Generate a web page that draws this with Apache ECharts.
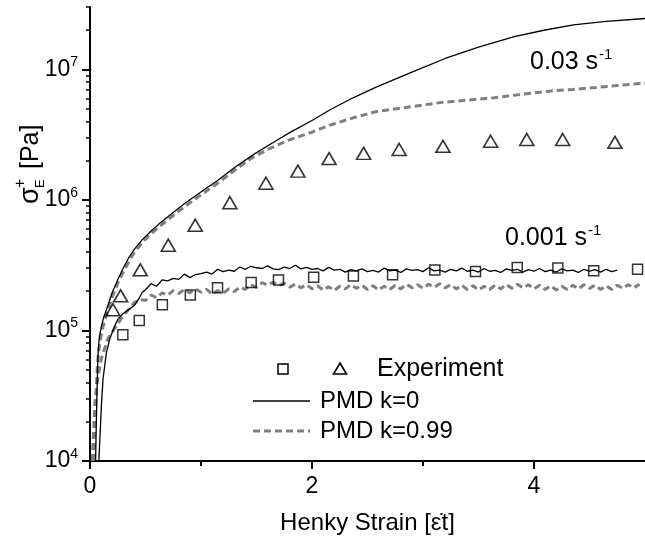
<!DOCTYPE html>
<html><head><meta charset="utf-8">
<script src="https://cdn.jsdelivr.net/npm/echarts@6/dist/echarts.min.js"></script>
<style>html,body{margin:0;padding:0;background:#fff}#c{width:645px;height:548px}</style>
</head><body><div id="c"></div>
<script>
const FONT = '"Liberation Sans", Arial, Helvetica, sans-serif';

// ---- axis ticks ----
const xMajorTicks = [0, 2, 4];
const xMinorTicks = [1, 3];
const yMajorTicks = [1e4, 1e5, 1e6, 1e7];
const yMinorTicks = [2e4,3e4,4e4,5e4,6e4,7e4,8e4,9e4, 2e5,3e5,4e5,5e5,6e5,7e5,8e5,9e5, 2e6,3e6,4e6,5e6,6e6,7e6,8e6,9e6, 2e7,3e7];

// ---- experiment, 0.001 1/s (squares) ----
const expSlowStrain = [0.296,0.444,0.652,0.904,1.149,1.452,1.698,2.015,2.373,2.726,3.107,3.473,3.849,4.215,4.538,4.933];
const expSlowStress = [9.25e4,1.19e5,1.57e5,1.87e5,2.12e5,2.33e5,2.43e5,2.55e5,2.61e5,2.67e5,2.90e5,2.83e5,3.03e5,3.01e5,2.86e5,2.94e5];

// ---- experiment, 0.03 1/s (triangles) ----
const expFastStrain = [0.207,0.276,0.453,0.705,0.948,1.26,1.585,1.873,2.154,2.465,2.785,3.18,3.609,3.935,4.258,4.729];
const expFastStress = [1.44e5,1.84e5,2.91e5,4.50e5,6.39e5,9.52e5,1.34e6,1.66e6,2.07e6,2.27e6,2.43e6,2.57e6,2.81e6,2.90e6,2.90e6,2.76e6];

// ---- PMD k=0, 0.03 1/s (black solid) ----
const pmdK0FastStrain = [0.05,0.055,0.06,0.065,0.07,0.076,0.085,0.104,0.125,0.148,0.2,0.252,0.3,0.35,0.4,0.47,0.548,0.62,0.696,0.77,0.844,0.92,0.993,1.06,1.14,1.3,1.482,1.65,1.807,2.0,2.163,2.37,2.578,2.9,3.2,3.5,3.822,4.1,4.356,4.65,5.0];
const pmdK0FastStress = [1.0e4,1.6e4,2.6e4,4.0e4,5.8e4,7.4e4,9.0e4,1.09e5,1.27e5,1.44e5,1.95e5,2.47e5,3.01e5,3.62e5,4.2e5,4.94e5,5.75e5,6.52e5,7.36e5,8.26e5,9.25e5,1.03e6,1.14e6,1.25e6,1.39e6,1.76e6,2.25e6,2.75e6,3.3e6,4.05e6,4.9e6,6.05e6,7.3e6,9.5e6,1.21e7,1.48e7,1.78e7,2.0e7,2.19e7,2.33e7,2.45e7];

// ---- PMD k=0.99, 0.03 1/s (grey dashed) ----
const pmdK99FastStrain = [0.035,0.042,0.05,0.058,0.066,0.075,0.09,0.11,0.13,0.155,0.2,0.25,0.3,0.385,0.47,0.55,0.65,0.8,0.95,1.05,1.156,1.3,1.452,1.62,1.807,2.0,2.163,2.37,2.578,2.874,3.171,3.4,3.644,3.9,4.178,4.35,4.533,4.75,5.0];
const pmdK99FastStress = [1.0e4,1.6e4,2.5e4,3.7e4,5.2e4,6.6e4,8.2e4,1.0e5,1.18e5,1.35e5,1.8e5,2.3e5,2.8e5,3.8e5,4.7e5,5.5e5,6.5e5,8.2e5,1.02e6,1.17e6,1.35e6,1.68e6,2.08e6,2.48e6,2.9e6,3.3e6,3.74e6,4.25e6,4.74e6,5.15e6,5.58e6,5.8e6,6.06e6,6.45e6,6.85e6,7.0e6,7.23e6,7.5e6,7.85e6];

// ---- shared strain grid of the noisy 0.001 1/s model curves ----
const noisyStrain = [0.50,0.55,0.60,0.65,0.70,0.75,0.80,0.85,0.90,0.95,1.00,1.05,1.10,1.15,1.20,1.25,1.30,1.35,1.40,1.45,1.50,1.55,1.60,1.65,1.70,1.75,1.80,1.85,1.90,1.95,2.00,2.05,2.10,2.15,2.20,2.25,2.30,2.35,2.40,2.45,2.50,2.55,2.60,2.65,2.70,2.75,2.80,2.85,2.90,2.95,3.00,3.05,3.10,3.15,3.20,3.25,3.30,3.35,3.40,3.45,3.50,3.55,3.60,3.65,3.70,3.75,3.80,3.85,3.90,3.95,4.00,4.05,4.10,4.15,4.20,4.25,4.30,4.35,4.40,4.45,4.50,4.55,4.60,4.65,4.70,4.75,4.80,4.85,4.90,4.95];

// ---- PMD k=0, 0.001 1/s (black solid, noisy) ----
const pmdK0SlowStartStrain = [0.08,0.089,0.104,0.118,0.148,0.178,0.215,0.252,0.3,0.35,0.4,0.44,0.47];
const pmdK0SlowStartStress = [1.0e4,1.48e4,2.8e4,4.3e4,6.8e4,8.6e4,1.05e5,1.22e5,1.35e5,1.45e5,1.55e5,1.75e5,1.95e5];
const pmdK0SlowStress = [2.05e5,2.28e5,2.18e5,2.44e5,2.40e5,2.50e5,2.46e5,2.70e5,2.54e5,2.68e5,2.72e5,2.80e5,2.70e5,2.94e5,2.82e5,2.90e5,2.84e5,3.06e5,2.94e5,3.10e5,3.02e5,2.98e5,3.12e5,2.96e5,2.92e5,3.06e5,2.98e5,3.16e5,2.96e5,3.04e5,2.94e5,2.98e5,2.86e5,3.04e5,2.90e5,2.94e5,2.80e5,2.92e5,2.86e5,2.96e5,2.82e5,2.88e5,2.80e5,3.00e5,2.86e5,2.90e5,2.78e5,2.96e5,2.88e5,2.92e5,2.82e5,3.02e5,2.86e5,2.90e5,2.80e5,2.94e5,2.86e5,3.00e5,2.84e5,2.90e5,2.80e5,2.98e5,2.84e5,2.88e5,2.78e5,2.96e5,2.88e5,2.94e5,2.80e5,2.92e5,2.84e5,2.98e5,2.82e5,2.90e5,2.80e5,2.96e5,2.86e5,2.90e5,2.78e5,2.94e5,2.84e5,2.92e5,2.80e5,2.94e5,2.82e5,2.90e5];

// ---- PMD k=0.99, 0.001 1/s (grey dashed, noisy) ----
const pmdK99SlowStartStrain = [0.02,0.03,0.045,0.07,0.1,0.16,0.24,0.3,0.35,0.4,0.45];
const pmdK99SlowStartStress = [1.0e4,1.5e4,2.8e4,4.3e4,6.0e4,8.6e4,1.09e5,1.3e5,1.45e5,1.64e5,1.72e5];
const pmdK99SlowStress = [1.70e5,1.86e5,1.78e5,1.94e5,1.86e5,2.02e5,1.92e5,2.06e5,1.94e5,2.08e5,1.96e5,2.06e5,1.90e5,2.02e5,1.92e5,2.08e5,1.98e5,2.14e5,2.06e5,2.24e5,2.14e5,2.32e5,2.22e5,2.34e5,2.20e5,2.30e5,2.14e5,2.26e5,2.12e5,2.24e5,2.08e5,2.20e5,2.04e5,2.16e5,2.02e5,2.18e5,2.08e5,2.24e5,2.10e5,2.22e5,2.06e5,2.20e5,2.04e5,2.18e5,2.06e5,2.22e5,2.08e5,2.26e5,2.12e5,2.24e5,2.10e5,2.26e5,2.14e5,2.28e5,2.12e5,2.24e5,2.08e5,2.22e5,2.06e5,2.20e5,2.04e5,2.18e5,2.06e5,2.22e5,2.08e5,2.24e5,2.10e5,2.26e5,2.12e5,2.24e5,2.08e5,2.22e5,2.06e5,2.20e5,2.04e5,2.18e5,2.06e5,2.22e5,2.08e5,2.24e5,2.10e5,2.22e5,2.06e5,2.20e5,2.06e5,2.22e5,2.10e5,2.24e5,2.12e5,2.26e5];

const zip = (xs, ys) => ys.map((y, i) => [xs[i], y]);
const slowK0 = zip(pmdK0SlowStartStrain, pmdK0SlowStartStress).concat(zip(noisyStrain, pmdK0SlowStress));
const slowK99 = zip(pmdK99SlowStartStrain, pmdK99SlowStartStress).concat(zip(noisyStrain, pmdK99SlowStress));

const GREY = '#7f7f7f';
const DASH = [7, 4];
const txt = {color: '#000', fontFamily: FONT};
const sup = (base, exp, size) => ({
  text: '{a|' + base + '}{s|' + exp + '}',
  rich: {a: {fontSize: size, fontFamily: FONT, fill: '#000'},
         s: {fontSize: 15, fontFamily: FONT, fill: '#000', padding: [0, 0, 15, 1]}},
  verticalAlign: 'middle'
});

const chart = echarts.init(document.getElementById('c'), null, {renderer: 'canvas'});
chart.setOption({
  animation: false,
  backgroundColor: '#fff',
  grid: {left: 90, right: -7.5, top: 7, bottom: 87, containLabel: false},
  xAxis: [{
    type: 'value', min: 0, max: 5, position: 'bottom',
    axisLine: {show: true, onZero: false, lineStyle: {color: '#000', width: 2}},
    axisTick: {show: true, customValues: xMajorTicks, length: 8, lineStyle: {color: '#000', width: 2}},
    axisLabel: {customValues: xMajorTicks, margin: 14, fontSize: 23, ...txt},
    splitLine: {show: false},
    name: 'Henky Strain [ε\u0307t]', nameLocation: 'middle', nameGap: 50,
    nameTextStyle: {fontSize: 24, ...txt}
  }, {
    type: 'value', min: 0, max: 5, position: 'bottom',
    axisLine: {show: false},
    axisTick: {show: true, customValues: xMinorTicks, length: 5, lineStyle: {color: '#000', width: 2}},
    axisLabel: {show: false}, splitLine: {show: false}
  }],
  yAxis: [{
    type: 'log', logBase: 10, min: 1e4, max: 3e7, position: 'left',
    axisLine: {show: true, lineStyle: {color: '#000', width: 2}},
    axisTick: {show: true, customValues: yMajorTicks, length: 8, lineStyle: {color: '#000', width: 2}},
    axisLabel: {
      customValues: yMajorTicks, margin: 12,
      formatter: v => '{b|10}{s|' + Math.round(Math.log10(v)) + '}',
      rich: {b: {fontSize: 23, ...txt}, s: {fontSize: 14, ...txt, padding: [0, 0, 14, 0]}}
    },
    splitLine: {show: false}
  }, {
    type: 'log', logBase: 10, min: 1e4, max: 3e7, position: 'left', offset: 0,
    axisLine: {show: false},
    axisTick: {show: true, customValues: yMinorTicks, length: 4, lineStyle: {color: '#000', width: 1.5}},
    axisLabel: {show: false}, splitLine: {show: false}
  }],
  series: [
    {type: 'line', name: 'PMD k=0.99 slow', data: slowK99, showSymbol: false, symbol: 'none',
     lineStyle: {color: GREY, width: 3, type: DASH}, z: 1},
    {type: 'line', name: 'PMD k=0.99 fast', data: zip(pmdK99FastStrain, pmdK99FastStress), showSymbol: false, symbol: 'none',
     lineStyle: {color: GREY, width: 3, type: DASH}, z: 1},
    {type: 'line', name: 'PMD k=0 slow', data: slowK0, showSymbol: false, symbol: 'none',
     lineStyle: {color: '#000', width: 1.3}, z: 2},
    {type: 'line', name: 'PMD k=0 fast', data: zip(pmdK0FastStrain, pmdK0FastStress), showSymbol: false, symbol: 'none',
     lineStyle: {color: '#000', width: 1.3}, z: 2},
    {type: 'scatter', name: 'Experiment slow', data: zip(expSlowStrain, expSlowStress), symbol: 'rect', symbolSize: 10,
     itemStyle: {color: 'rgba(0,0,0,0)', borderColor: '#000', borderWidth: 1.5}, z: 3},
    {type: 'scatter', name: 'Experiment fast', data: zip(expFastStrain, expFastStress), symbol: 'triangle', symbolSize: [14, 12],
     itemStyle: {color: 'rgba(0,0,0,0)', borderColor: '#000', borderWidth: 1.6}, z: 3}
  ],
  graphic: [
    // y-axis title  sigma_E^+ [Pa]
    {type: 'group', x: 31, y: 156, rotation: Math.PI / 2, children: [
      {type: 'text', x: -48, y: 0, style: {text: 'σ', fontSize: 27, fill: '#000', fontFamily: FONT, verticalAlign: 'middle', align: 'left'}},
      {type: 'text', x: -32, y: -10, style: {text: '+', fontSize: 16, fill: '#000', fontFamily: FONT, verticalAlign: 'middle', align: 'left'}},
      {type: 'text', x: -32, y: 9, style: {text: 'E', fontSize: 13, fill: '#000', fontFamily: FONT, verticalAlign: 'middle', align: 'left'}},
      {type: 'text', x: -20, y: 0, style: {text: ' [Pa]', fontSize: 25, fill: '#000', fontFamily: FONT, verticalAlign: 'middle', align: 'left'}}
    ]},
    // rate annotations
    {type: 'text', x: 530, y: 62, style: sup('0.03 s', '-1', 25)},
    {type: 'text', x: 505, y: 238, style: sup('0.001 s', '-1', 25)},
    // legend
    {type: 'rect', shape: {x: 278, y: 364, width: 10, height: 10}, style: {fill: 'none', stroke: '#000', lineWidth: 1.5}},
    {type: 'polygon', shape: {points: [[340, 363], [346.5, 374], [333.5, 374]]}, style: {fill: 'none', stroke: '#000', lineWidth: 1.6}},
    {type: 'text', x: 377, y: 369, style: {text: 'Experiment', fontSize: 25, fill: '#000', fontFamily: FONT, verticalAlign: 'middle'}},
    {type: 'line', shape: {x1: 253, y1: 401, x2: 310, y2: 401}, style: {stroke: '#000', lineWidth: 1.3}},
    {type: 'text', x: 320, y: 401, style: {text: 'PMD k=0', fontSize: 24, fill: '#000', fontFamily: FONT, verticalAlign: 'middle'}},
    {type: 'line', shape: {x1: 253, y1: 431, x2: 310, y2: 431}, style: {stroke: GREY, lineWidth: 3, lineDash: DASH}},
    {type: 'text', x: 320, y: 431, style: {text: 'PMD k=0.99', fontSize: 24, fill: '#000', fontFamily: FONT, verticalAlign: 'middle'}}
  ]
});
</script>
</body></html>
